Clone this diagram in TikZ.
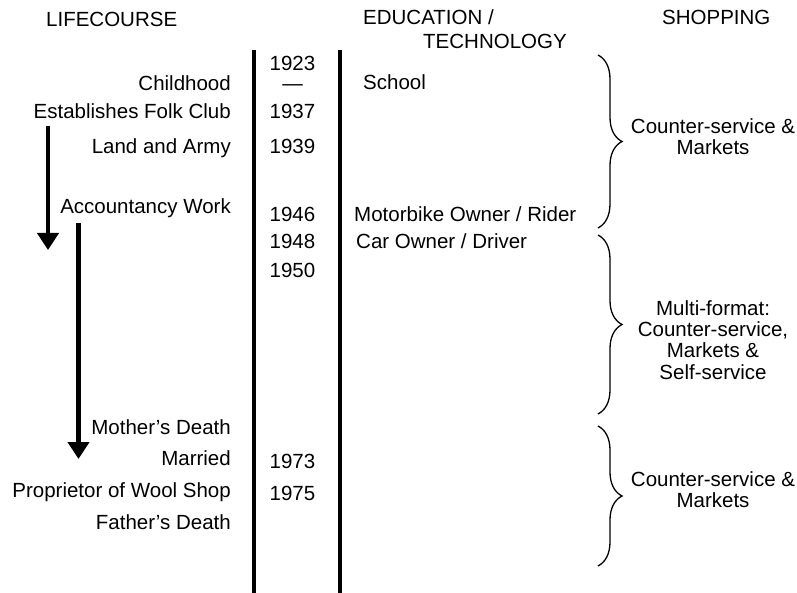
\documentclass[tikz,border=0pt]{standalone}
\usepackage{fontspec}
\setmainfont{Liberation Sans}
\usepackage{tikz}
\usetikzlibrary{arrows.meta,positioning}
\usetikzlibrary{decorations.pathreplacing}
\tikzstyle{txt}=[inner sep=0pt, font=\fontsize{20.5}{21.3}\selectfont]
\tikzstyle{life}=[txt, anchor=base east]
\tikzstyle{yr}=[txt, anchor=base]
\tikzstyle{edu}=[txt, anchor=base west]
\tikzstyle{shop}=[txt, align=center]
\tikzstyle{bar}=[line width=4.5pt]
\tikzstyle{span}=[line width=4.5pt, -{Triangle[width=21pt,length=17pt]}]
\tikzstyle{brc}=[line width=1.3pt, decorate, decoration={brace, amplitude=24pt}]

\begin{document}
\begin{tikzpicture}
[x=1pt, y=-1pt]
\useasboundingbox (0,0) rectangle (797,593);
% headers
\node[txt, anchor=base west] (h1) at (46,27) {LIFECOURSE};
\node[txt, anchor=base west] (h2) at (363,25) {EDUCATION /};
\node[txt, anchor=base west] (h3) at (423,49) {TECHNOLOGY};
\node[txt, anchor=base west] (h4) at (662,25) {SHOPPING};
% lifecourse
\node[life] (l1) at (231,91) {Childhood};
\node[life] (l2) at (231,119) {Establishes Folk Club};
\node[life] (l3) at (231,154) {Land and Army};
\node[life] (l4) at (231,214) {Accountancy Work};
\node[life] (l5) at (231,434) {Mother's Death};
\node[life] (l6) at (231,465) {Married};
\node[life] (l7) at (231,497) {Proprietor of Wool Shop};
\node[life] (l8) at (231,529) {Father's Death};
% years
\node[yr] (y1) at (292.5,71) {1923};
\node[yr] (y2) at (292.5,91) {---};
\node[yr] (y3) at (292.5,119) {1937};
\node[yr] (y4) at (292.5,154) {1939};
\node[yr] (y5) at (292.5,222) {1946};
\node[yr] (y6) at (292.5,249) {1948};
\node[yr] (y7) at (292.5,278) {1950};
\node[yr] (y8) at (292.5,468) {1973};
\node[yr] (y9) at (292.5,500) {1975};
% education / technology
\node[edu] (e1) at (363,90) {School};
\node[edu] (e2) at (354,222) {Motorbike Owner / Rider};
\node[edu] (e3) at (356,249) {Car Owner / Driver};
% shopping
\node[shop] (s1) at (713,137) {Counter-service \&\\Markets};
\node[shop] (s2) at (713,340) {Multi-format:\\Counter-service,\\Markets \&\\Self-service};
\node[shop] (s3) at (713,490) {Counter-service \&\\Markets};
% rules and arrows
\coordinate (t1) at (254,50);
\coordinate (b1) at (254,593);
\coordinate (t2) at (340,50);
\coordinate (b2) at (340,593);
\coordinate (a1) at (48,126);
\coordinate (a2) at (48,250);
\coordinate (a3) at (78.5,223);
\coordinate (a4) at (78.5,459);
\draw[bar] (t1) -- (b1);
\draw[bar] (t2) -- (b2);
\draw[span] (a1) -- (a2);
\draw[span] (a3) -- (a4);
% braces
\coordinate (p1) at (598,55);
\coordinate (q1) at (598,228);
\coordinate (p2) at (598,235);
\coordinate (q2) at (598,414);
\coordinate (p3) at (598,426);
\coordinate (q3) at (598,566);
\draw[brc] (p1) -- (q1);
\draw[brc] (p2) -- (q2);
\draw[brc] (p3) -- (q3);
\end{tikzpicture}
\end{document}
